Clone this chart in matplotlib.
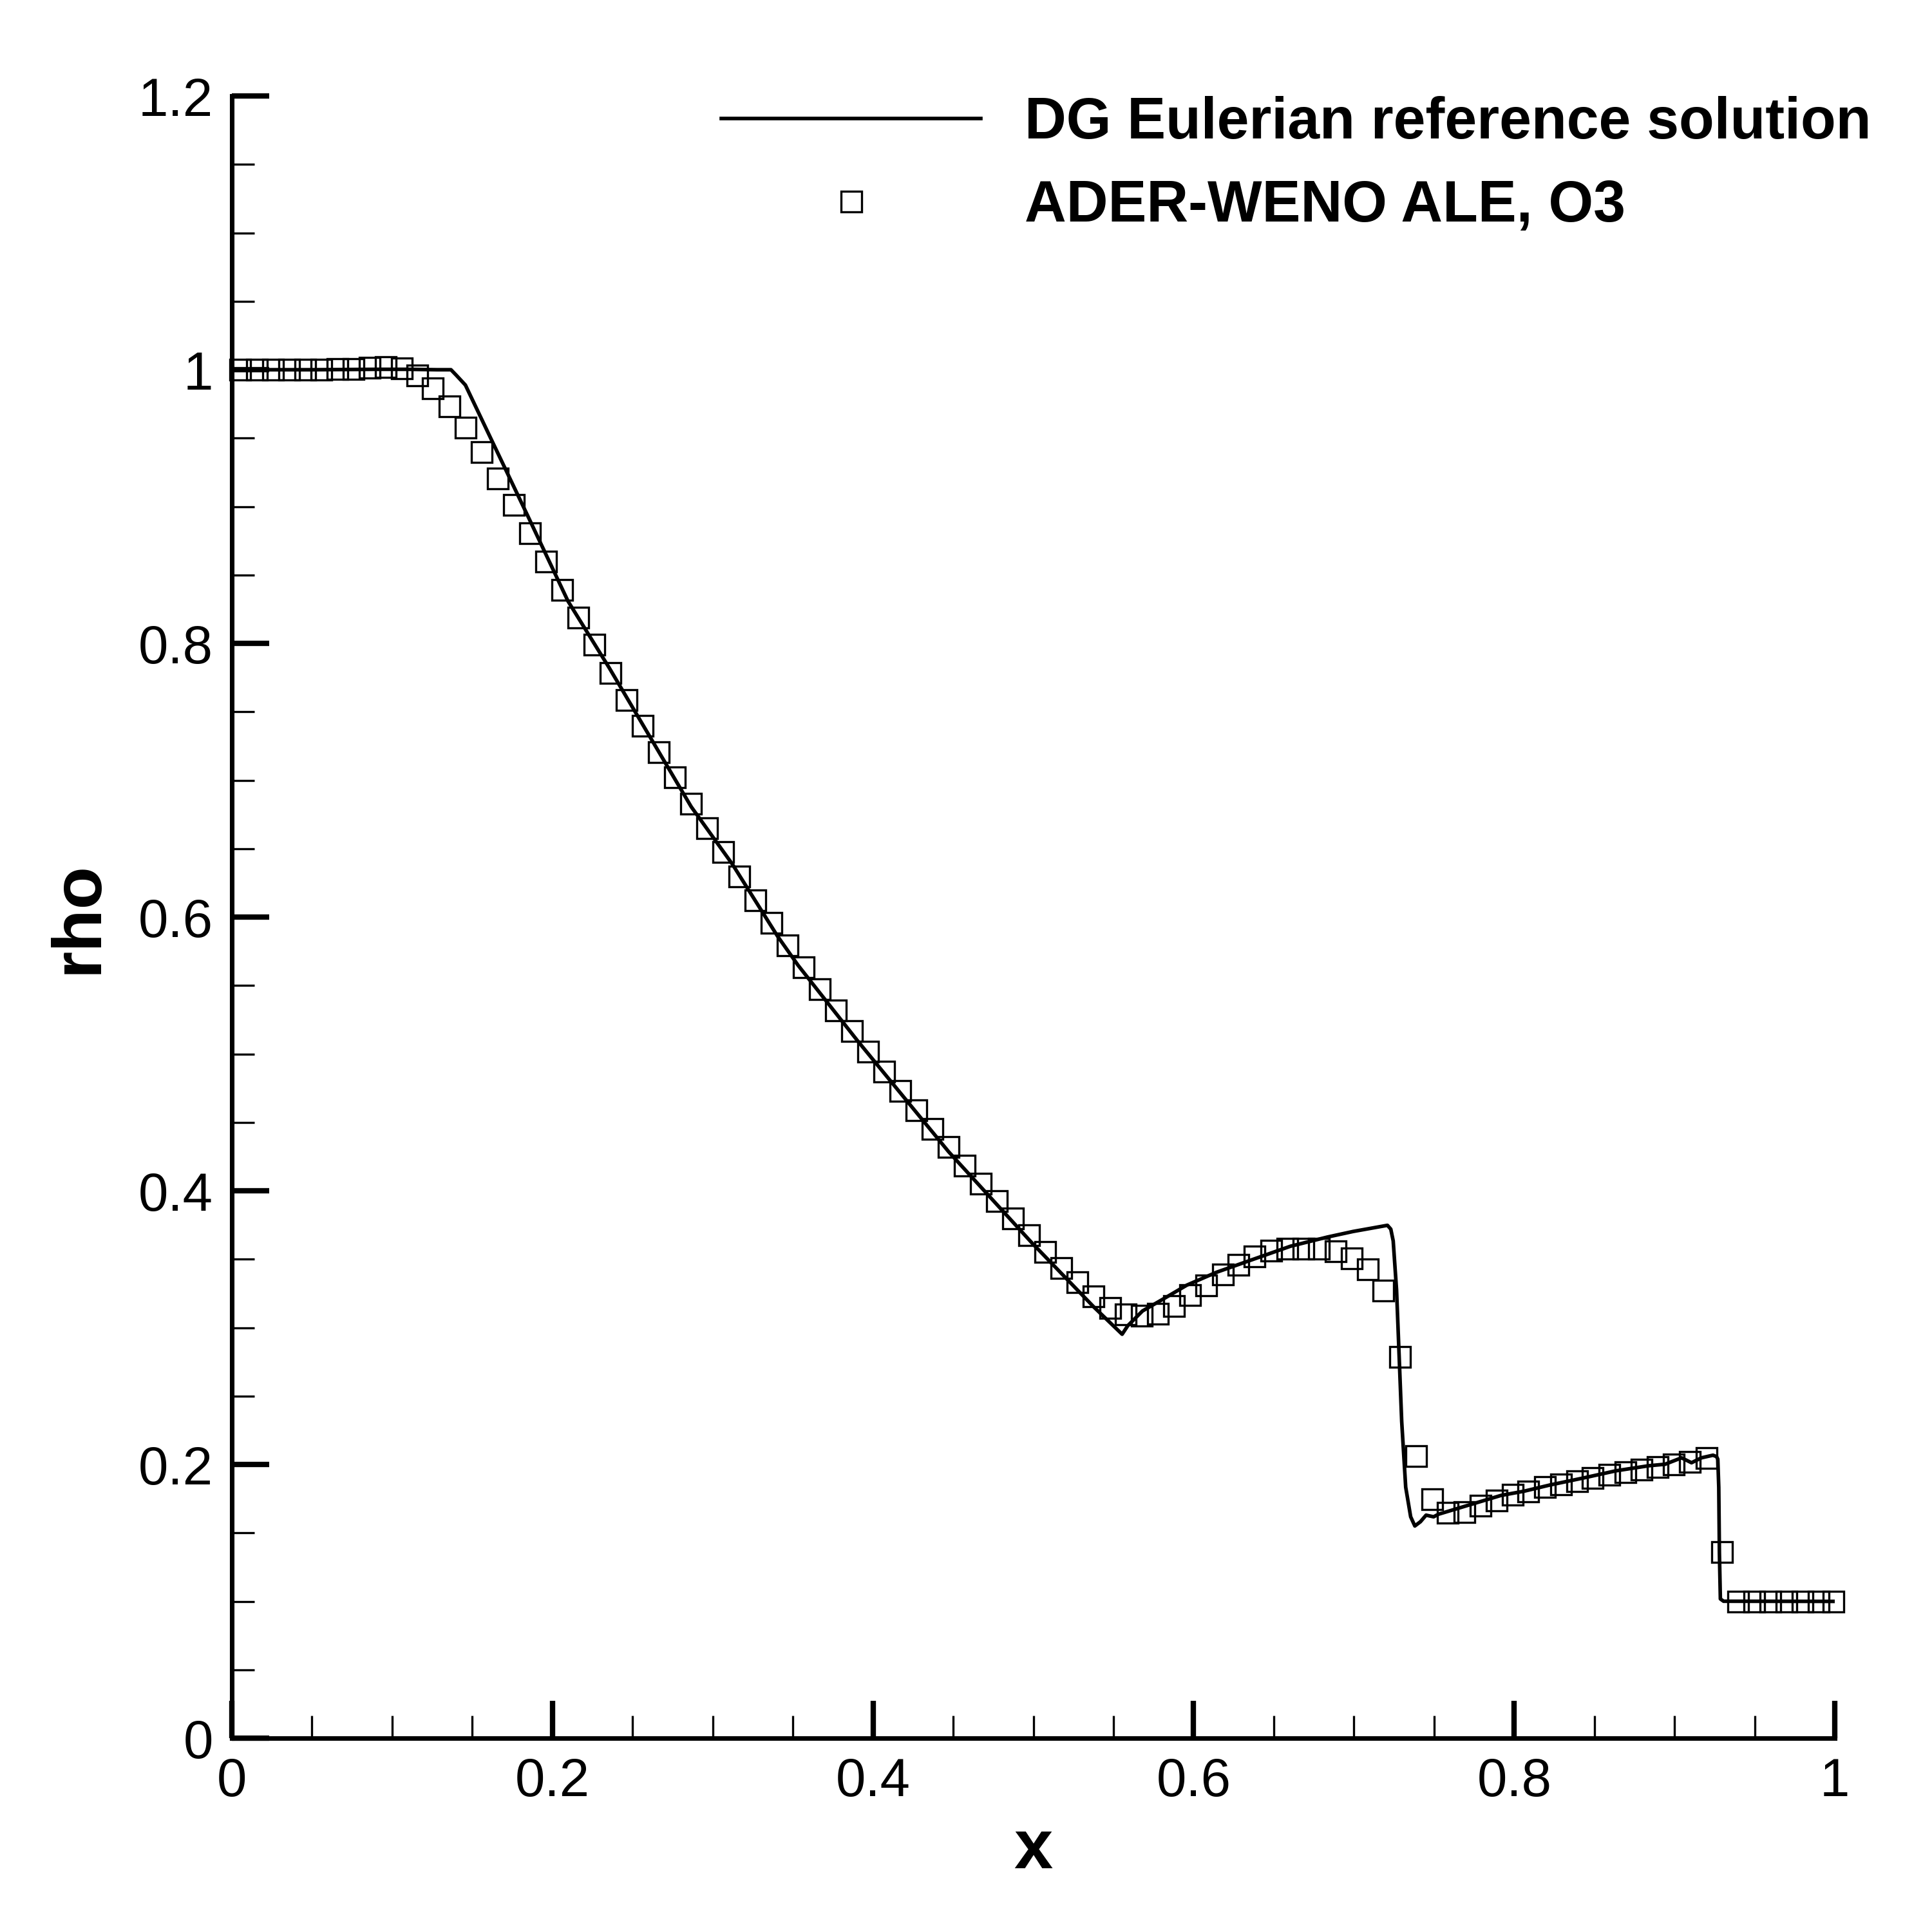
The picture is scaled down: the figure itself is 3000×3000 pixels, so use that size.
import matplotlib
matplotlib.use('Agg')
import matplotlib.pyplot as plt
from matplotlib.ticker import MultipleLocator, FormatStrFormatter


# DG Eulerian reference solution (solid line)
ref_x = [0.0, 0.05, 0.09, 0.11, 0.128, 0.1367, 0.1400, 0.1457, 0.1611, 0.1844,
         0.2097, 0.2354, 0.2609, 0.2866, 0.3123, 0.3403, 0.3533, 0.3905, 0.4472,
         0.4990, 0.5380, 0.5554, 0.5589, 0.5681, 0.5820, 0.5958, 0.6143, 0.6373,
         0.6604, 0.6834, 0.6995, 0.7100, 0.7209, 0.7230, 0.7245, 0.7266, 0.7282,
         0.7298, 0.7323, 0.7354, 0.7380, 0.7415, 0.7450, 0.7497, 0.7528, 0.7712,
         0.7917, 0.8061, 0.8225, 0.8429, 0.8634, 0.8839, 0.8941, 0.9044, 0.9106,
         0.9168, 0.9240, 0.9262, 0.9270, 0.9276, 0.9280, 0.9286, 0.9306, 1.0]
ref_rho = [1.0, 1.0, 1.0003, 1.0003, 1.0, 1.0, 0.9960, 0.9888, 0.9509, 0.8937,
           0.8309, 0.7822, 0.7316, 0.6806, 0.6386, 0.5863, 0.5647, 0.5094, 0.4285,
           0.3621, 0.3148, 0.2952, 0.3014, 0.3122, 0.3216, 0.3311, 0.3405, 0.3500,
           0.3595, 0.3662, 0.3703, 0.3725, 0.3748, 0.3720, 0.3634, 0.3275, 0.2795,
           0.2315, 0.1834, 0.1618, 0.1551, 0.1582, 0.1630, 0.1618, 0.1637, 0.1702,
           0.1774, 0.1805, 0.1851, 0.1901, 0.1954, 0.1991, 0.2002, 0.2049, 0.2013,
           0.2049, 0.2068, 0.2058, 0.2039, 0.1834, 0.1354, 0.1018, 0.1001, 0.1]

# ADER-WENO ALE, O3 (square symbols)
ale_x = [0.0051, 0.0158, 0.0258, 0.0359, 0.0459, 0.0560, 0.0660, 0.0758, 0.0861, 0.0961,
         0.1062, 0.1157, 0.1255, 0.1357, 0.1457, 0.1557, 0.1659, 0.1759, 0.1859, 0.1962,
         0.2062, 0.2162, 0.2262, 0.2362, 0.2462, 0.2564, 0.2664, 0.2764, 0.2864, 0.2966,
         0.3066, 0.3166, 0.3266, 0.3366, 0.3468, 0.3569, 0.3670, 0.3769, 0.3868, 0.3970,
         0.4069, 0.4171, 0.4272, 0.4371, 0.4472, 0.4572, 0.4673, 0.4773, 0.4874, 0.4973,
         0.5075, 0.5176, 0.5275, 0.5377, 0.5478, 0.5577, 0.5676, 0.5779, 0.5877, 0.5980,
         0.6080, 0.6181, 0.6280, 0.6379, 0.6483, 0.6585, 0.6684, 0.6783, 0.6885, 0.6985,
         0.7087, 0.7184, 0.7286, 0.7388, 0.7489, 0.7586, 0.7688, 0.7788, 0.7889, 0.7989,
         0.8089, 0.8190, 0.8292, 0.8391, 0.8491, 0.8594, 0.8694, 0.8795, 0.8895, 0.8996,
         0.9096, 0.9199, 0.9297, 0.9397, 0.9499, 0.9599, 0.9700, 0.9800, 0.9901, 0.9990]
ale_rho = [1.0, 1.0, 1.0, 1.0, 1.0, 1.0, 1.0003, 1.0006, 1.0016, 1.0021,
           1.0008, 0.9958, 0.9862, 0.9731, 0.9577, 0.9397, 0.9205, 0.9010, 0.8803, 0.8600,
           0.8393, 0.8191, 0.7989, 0.7784, 0.7586, 0.7398, 0.7203, 0.7020, 0.6831, 0.6651,
           0.6474, 0.6296, 0.6125, 0.5958, 0.5793, 0.5634, 0.5472, 0.5319, 0.5167, 0.5019,
           0.4873, 0.4729, 0.4589, 0.4454, 0.4319, 0.4184, 0.4051, 0.3927, 0.3800, 0.3675,
           0.3554, 0.3437, 0.3330, 0.3230, 0.3143, 0.3095, 0.3087, 0.3101, 0.3160, 0.3236,
           0.3311, 0.3387, 0.3460, 0.3522, 0.3562, 0.3575, 0.3575, 0.3575, 0.3560, 0.3506,
           0.3425, 0.3270, 0.2786, 0.2061, 0.1746, 0.1648, 0.1653, 0.1697, 0.1737, 0.1778,
           0.1802, 0.1834, 0.1855, 0.1880, 0.1901, 0.1923, 0.1944, 0.1964, 0.1981, 0.2002,
           0.2021, 0.2049, 0.1361, 0.1, 0.1, 0.1, 0.1, 0.1, 0.1, 0.1]


def main():
    plt.rcParams['font.family'] = ['Liberation Sans', 'DejaVu Sans']

    fig = plt.figure(figsize=(10, 10), dpi=300)
    ax = fig.add_axes([0.12, 0.1003, 0.8297, 0.85])

    ax.plot(ref_x, ref_rho, color='black', lw=1.35,
            label='DG Eulerian reference solution')
    ax.plot(ale_x, ale_rho, ls='none', marker='s', ms=7.6, mfc='none',
            mec='black', mew=0.8, clip_on=False, label='ADER-WENO ALE, O3')

    ax.set_xlim(0, 1)
    ax.set_ylim(0, 1.2)

    # tecplot-like axes: only left/bottom, ticks inward
    ax.spines['top'].set_visible(False)
    ax.spines['right'].set_visible(False)
    ax.spines['left'].set_linewidth(1.7)
    ax.spines['bottom'].set_linewidth(1.7)

    ax.xaxis.set_major_locator(MultipleLocator(0.2))
    ax.xaxis.set_minor_locator(MultipleLocator(0.05))
    ax.yaxis.set_major_locator(MultipleLocator(0.2))
    ax.yaxis.set_minor_locator(MultipleLocator(0.05))
    ax.xaxis.set_major_formatter(FormatStrFormatter('%g'))
    ax.yaxis.set_major_formatter(FormatStrFormatter('%g'))

    ax.tick_params(which='major', direction='in', length=14, width=2.0,
                   labelsize=20, pad=7, top=False, right=False)
    ax.tick_params(which='minor', direction='in', length=8.5, width=0.8,
                   top=False, right=False)

    ax.set_xlabel('x', fontsize=26, fontweight='bold', labelpad=4)
    ax.set_ylabel('rho', fontsize=26, fontweight='bold', labelpad=10)

    ax.legend(loc='upper left', bbox_to_anchor=(0.3054, 1.0), frameon=False,
              prop={'size': 21.5, 'weight': 'bold'}, handlelength=4.5,
              handletextpad=0.76, labelspacing=0.49, numpoints=1,
              borderaxespad=0, borderpad=0)

    fig.savefig('out.png', dpi=300)


if __name__ == "__main__":
    main()
